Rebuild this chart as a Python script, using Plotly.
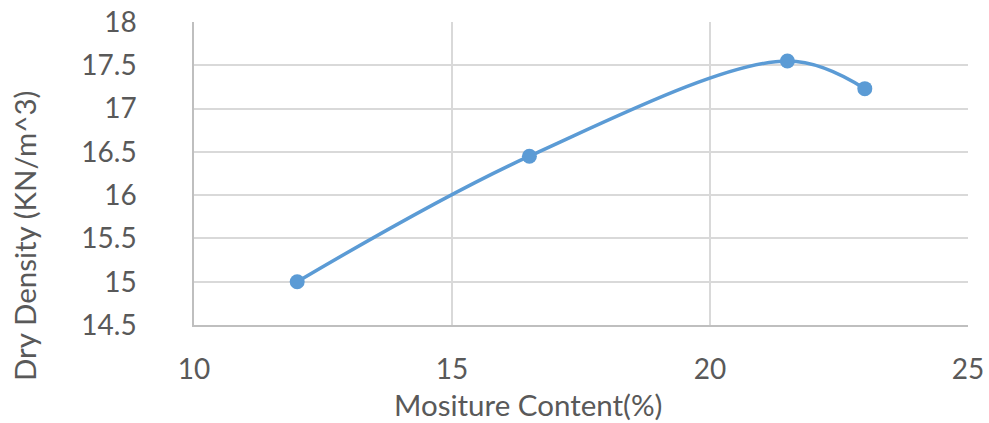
import plotly.graph_objects as go

moisture = [12, 16.5, 21.5, 23]
dry_density = [15.0, 16.45, 17.55, 17.23]

x_ticks = [10, 15, 20, 25]
y_ticks = [14.5, 15, 15.5, 16, 16.5, 17, 17.5, 18]
y_tick_text = ["14.5", "15", "15.5", "16", "16.5", "17", "17.5", "18"]

x_title = "Mositure Content(%)"
y_title = "Dry Density (KN/m^3)"

fig = go.Figure()
fig.add_trace(go.Scatter(
    x=moisture, y=dry_density, mode="lines+markers",
    line=dict(color="#5b9bd5", width=3.5, shape="spline", smoothing=1.0),
    marker=dict(color="#5b9bd5", size=15),
    showlegend=False,
))

font_family = "Lato"
fig.update_layout(
    width=989, height=423,
    margin=dict(l=194, r=21, t=22, b=98, autoexpand=False),
    paper_bgcolor="white", plot_bgcolor="white",
    font=dict(family=font_family, color="#595959", size=28),
    xaxis=dict(
        range=[10, 25], tickvals=x_ticks, showgrid=True, gridcolor="#d9d9d9", gridwidth=1.5,
        showline=True, linecolor="#bfbfbf", linewidth=1.5, mirror=False, zeroline=False,
        ticks="", ticklabelstandoff=19, tickfont=dict(size=28), automargin=False,
    ),
    yaxis=dict(
        range=[14.5, 18], tickvals=y_ticks, ticktext=y_tick_text, showgrid=True,
        gridcolor="#d9d9d9", gridwidth=1.5,
        showline=True, linecolor="#bfbfbf", linewidth=1.5, zeroline=False,
        ticks="", ticklabelstandoff=50, tickfont=dict(size=28), automargin=False,
    ),
    annotations=[
        dict(text=x_title, xref="paper", yref="paper", x=(528 - 194) / 774, y=(325 - 404) / 303,
             xanchor="center", yanchor="middle", showarrow=False, font=dict(size=29.5)),
        dict(text=y_title, xref="paper", yref="paper", x=(24 - 194) / 774, y=(325 - 236) / 303,
             xanchor="center", yanchor="middle", showarrow=False, textangle=-90, font=dict(size=29.5)),
    ],
)
fig.write_html("out.html", config={"displayModeBar": False},
               post_script="document.body.style.margin='0';document.body.style.overflow='hidden';")
